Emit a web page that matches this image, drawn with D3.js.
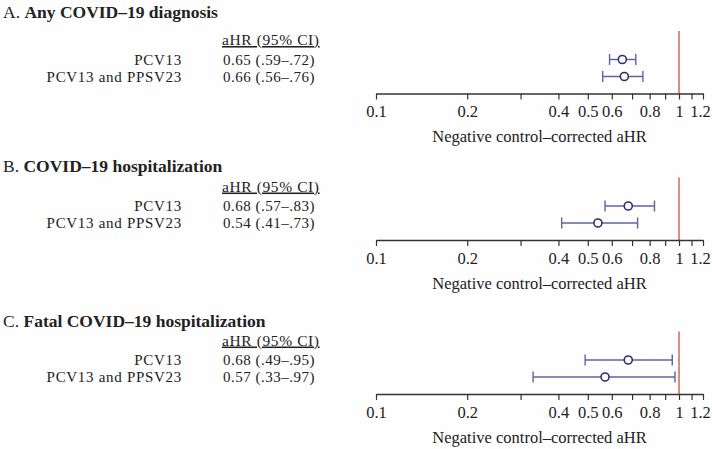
<!DOCTYPE html>
<html>
<head>
<meta charset="utf-8">
<script src="https://cdn.jsdelivr.net/npm/d3@7"></script>
<style>
  body { margin: 0; background: #fefefe; }
  svg text { font-family: "Liberation Serif", "DejaVu Serif", serif; fill: #222; }
</style>
</head>
<body>
<div id="chart"></div>
<script>
// data
var letters = ["A.", "B.", "C."];
var outcomes = ["Any COVID\u201319 diagnosis", "COVID\u201319 hospitalization", "Fatal COVID\u201319 hospitalization"];
var vaccines = ["PCV13", "PCV13 and PPSV23"];
var estimates = [[0.65, 0.66], [0.68, 0.54], [0.68, 0.57]];
var lowers = [[0.59, 0.56], [0.57, 0.41], [0.49, 0.33]];
var uppers = [[0.72, 0.76], [0.83, 0.73], [0.95, 0.97]];
var tickValues = [0.1, 0.2, 0.3, 0.4, 0.5, 0.6, 0.7, 0.8, 0.9, 1, 1.1, 1.2];
var tickLabels = ["0.1", "0.2", "", "0.4", "0.5", "0.6", "", "0.8", "", "1", "", "1.2"];

var width = 712, height = 449;
var axisY = [93.5, 240, 394];
var titleY = [17.5, 171.5, 326.5];

var svg = d3.select("#chart").append("svg")
    .attr("width", width)
    .attr("height", height);

var x = d3.scaleLog().domain([0.1, 1.2]).range([376, 703]);
var y = d3.scalePoint().domain(vaccines).range([-34, -17]);

function fmt(v) {
    return d3.format(".2f")(v).replace(/^0/, "");
}

outcomes.forEach(function(name, p) {
    // title
    var t = svg.append("text")
        .attr("x", 3)
        .attr("y", titleY[p])
        .style("font-size", "17.5px");
    t.append("tspan").text(letters[p] + " ");
    t.append("tspan").style("font-weight", "bold").text(name);

    var g = svg.append("g").attr("transform", "translate(0," + axisY[p] + ")");

    g.append("text")
        .attr("x", 222)
        .attr("y", -48.5)
        .style("font-size", "15.5px")
        .style("letter-spacing", "0.6px")
        .style("text-decoration", "underline")
        .text("aHR (95% CI)");

    vaccines.forEach(function(v, i) {
        g.append("text")
            .attr("x", 182)
            .attr("y", y(v) + 5)
            .attr("text-anchor", "end")
            .style("font-size", "15px")
            .style("letter-spacing", "0.7px")
            .text(v);
        g.append("text")
            .attr("x", 223)
            .attr("y", y(v) + 5)
            .style("font-size", "15px")
            .style("letter-spacing", "0.5px")
            .text(d3.format(".2f")(estimates[p][i]) + " (" + fmt(lowers[p][i]) + "\u2013" + fmt(uppers[p][i]) + ")");
    });

    // reference line at 1
    g.append("line")
        .attr("x1", x(1)).attr("x2", x(1))
        .attr("y1", -62.5).attr("y2", 0)
        .attr("stroke", "#c9503f")
        .attr("stroke-width", 1.3);

    // axis
    var axis = d3.axisBottom(x)
        .tickValues(tickValues)
        .tickFormat(function(d, i) { return tickLabels[i]; })
        .tickSize(6)
        .tickSizeOuter(0)
        .tickPadding(6);
    var ax = g.append("g").call(axis);
    ax.select(".domain").attr("stroke", "#333").attr("stroke-width", 1.3);
    ax.selectAll(".tick line").attr("stroke", "#333").attr("stroke-width", 1.2);
    ax.selectAll(".tick text")
        .style("font-family", "\"Liberation Serif\", serif")
        .style("font-size", "16.5px")
        .attr("fill", "#222")
        .attr("dx", function(d) { return d === 1.2 ? -3 : 0; });

    g.append("text")
        .attr("x", (x(0.1) + x(1.2)) / 2 + 0)
        .attr("y", 48.5)
        .attr("text-anchor", "middle")
        .style("font-size", "16.5px")
        .text("Negative control\u2013corrected aHR");

    // CIs and point estimates
    var rows = g.selectAll(".row")
        .data(vaccines)
        .enter().append("g")
        .attr("class", "row");

    rows.append("line")
        .attr("x1", function(d, i) { return x(lowers[p][i]); })
        .attr("x2", function(d, i) { return x(uppers[p][i]); })
        .attr("y1", function(d) { return y(d); })
        .attr("y2", function(d) { return y(d); })
        .attr("stroke", "#62629e")
        .attr("stroke-width", 1.4);
    rows.append("line")
        .attr("x1", function(d, i) { return x(lowers[p][i]); })
        .attr("x2", function(d, i) { return x(lowers[p][i]); })
        .attr("y1", function(d) { return y(d) - 5.5; })
        .attr("y2", function(d) { return y(d) + 5.5; })
        .attr("stroke", "#62629e")
        .attr("stroke-width", 1.4);
    rows.append("line")
        .attr("x1", function(d, i) { return x(uppers[p][i]); })
        .attr("x2", function(d, i) { return x(uppers[p][i]); })
        .attr("y1", function(d) { return y(d) - 5.5; })
        .attr("y2", function(d) { return y(d) + 5.5; })
        .attr("stroke", "#62629e")
        .attr("stroke-width", 1.4);
    rows.append("circle")
        .attr("cx", function(d, i) { return x(estimates[p][i]); })
        .attr("cy", function(d) { return y(d); })
        .attr("r", 4)
        .attr("fill", "#fff")
        .attr("stroke", "#2f2f6e")
        .attr("stroke-width", 1.6);
});
</script>
</body>
</html>
